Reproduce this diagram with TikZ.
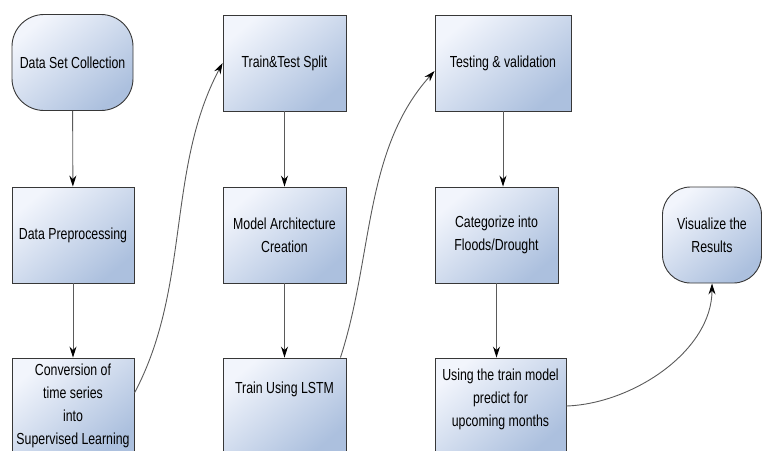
\documentclass[tikz,border=0pt]{standalone}
\usepackage{fontspec}
\setmainfont{Liberation Sans}[FakeStretch=0.77]
\usepackage{tikz}
\usetikzlibrary{arrows.meta}
\definecolor{box_light}{RGB}{242,245,252}
\definecolor{box_dark}{RGB}{172,192,222}
\definecolor{edge_gray}{RGB}{55,55,55}
\definecolor{line_gray}{RGB}{90,90,90}

\begin{document}
\begin{tikzpicture}[x=1pt, y=-1pt,
    every node/.style={font=\fontsize{16}{23}\selectfont, align=center},
    procbox/.style={rectangle, draw=edge_gray, line width=0.9pt, top color=box_light, bottom color=box_dark, shading angle=40, minimum height=96pt, inner xsep=1pt, inner ysep=2pt},
    termbox/.style={procbox, rounded corners=32pt},
    flow/.style={line_gray, line width=0.9pt, -{Stealth[length=11pt, width=7pt, black]}}]
    \useasboundingbox (0,0) rectangle (762,450);
    \clip (0,0) rectangle (762,450);

    % Column 1
    \node[termbox, minimum width=121pt] (collect) at (72.5, 62.5) {Data Set Collection};
    \node[procbox, minimum width=122pt] (prep) at (73, 235) {Data Preprocessing};
    \node[procbox, minimum width=122pt] (conv) at (73, 406) {Conversion of\\time series\\into\\Supervised Learning};

    % Column 2
    \node[procbox, minimum width=123pt] (split) at (284.5, 63) {Train\&Test Split};
    \node[procbox, minimum width=123pt] (arch) at (284.5, 235) {Model Architecture\\Creation};
    \node[procbox, minimum width=123pt, text depth=37pt] (lstm) at (284.5, 406) {Train Using LSTM};

    % Column 3
    \node[procbox, minimum width=136pt] (test) at (503, 63) {Testing \& validation};
    \node[procbox, minimum width=123pt] (categ) at (496.5, 235) {Categorize into\\Floods/Drought};
    \node[procbox, minimum width=131pt, text depth=17pt] (predict) at (500.5, 406) {Using the train model\\predict for\\upcoming months};

    % Result
    \node[termbox, minimum width=99pt, rounded corners=28pt] (visual) at (712, 235) {Visualize the\\Results};

    % Straight connections
    \draw[flow] (collect) -- (prep);
    \draw[flow] (prep) -- (conv);
    \draw[flow] (split) -- (arch);
    \draw[flow] (arch) -- (lstm);
    \draw[flow] (test.south) -- (test.south |- categ.north);
    \draw[flow] (categ.south) -- (categ.south |- predict.north);

    % Curved connections
    \draw[flow] ([yshift=13pt]conv.east) to[out=62, in=242, looseness=0.9] (split.west);
    \draw[flow] ([xshift=-6pt]lstm.north east) to[out=72, in=228, looseness=0.9] ([yshift=-8pt]test.west);
    \draw[flow] (predict.east) to[out=2, in=270, looseness=0.9] (visual.south);
\end{tikzpicture}
\end{document}
